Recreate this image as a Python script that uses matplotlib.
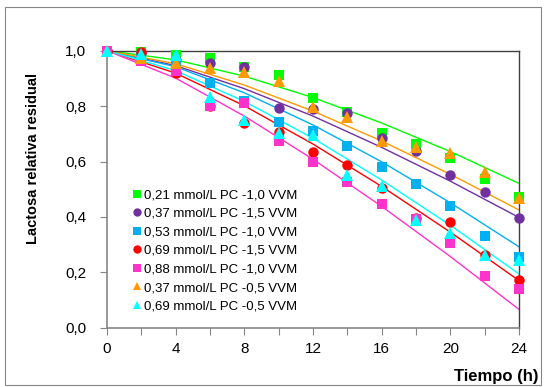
import matplotlib.pyplot as plt
from matplotlib.patches import Rectangle

plt.rcParams['font.family'] = ['Liberation Sans', 'DejaVu Sans']

# measured points (h, relative residual lactose)
t = [0, 2, 4, 6, 8, 10, 12, 14, 16, 18, 20, 22, 24]
s021_10 = [1.0, 0.995, 0.984, 0.972, 0.94, 0.912, 0.83, 0.78, 0.704, 0.662, 0.611, 0.536, 0.471]
s037_15 = [1.0, 0.99, 0.965, 0.957, 0.942, 0.794, 0.79, 0.774, 0.684, 0.639, 0.551, 0.491, 0.397]
s053_10 = [1.0, 0.98, 0.95, 0.882, 0.82, 0.744, 0.711, 0.656, 0.581, 0.519, 0.44, 0.331, 0.254]
s069_15 = [1.0, 0.995, 0.918, 0.80, 0.738, 0.708, 0.635, 0.587, 0.503, 0.395, 0.38, 0.262, 0.172]
s088_10 = [1.0, 0.964, 0.928, 0.80, 0.81, 0.675, 0.60, 0.527, 0.445, 0.392, 0.307, 0.187, 0.139]
s037_05 = [1.0, 0.973, 0.954, 0.936, 0.924, 0.892, 0.798, 0.76, 0.674, 0.653, 0.63, 0.563, 0.47]
s069_05 = [1.0, 0.988, 0.985, 0.832, 0.75, 0.704, 0.696, 0.551, 0.512, 0.389, 0.341, 0.262, 0.244]

tf = [0, 4, 8, 12, 16, 20, 24]
f021_10 = [1.0, 0.967, 0.908, 0.831, 0.739, 0.636, 0.521]
f037_15 = [1.0, 0.946, 0.863, 0.764, 0.651, 0.529, 0.398]
f053_10 = [1.0, 0.942, 0.848, 0.732, 0.599, 0.451, 0.292]
f069_15 = [1.0, 0.919, 0.801, 0.663, 0.510, 0.345, 0.170]
f088_10 = [1.0, 0.901, 0.764, 0.608, 0.438, 0.257, 0.066]
f037_05 = [1.0, 0.953, 0.876, 0.782, 0.674, 0.554, 0.425]
f069_05 = [1.0, 0.928, 0.817, 0.684, 0.533, 0.370, 0.194]

labels = ['0,21 mmol/L PC -1,0 VVM', '0,37 mmol/L PC -1,5 VVM',
          '0,53 mmol/L PC -1,0 VVM', '0,69 mmol/L PC -1,5 VVM',
          '0,88 mmol/L PC -1,0 VVM', '0,37 mmol/L PC -0,5 VVM',
          '0,69 mmol/L PC -0,5 VVM']

series = [s021_10, s037_15, s053_10, s069_15, s088_10, s037_05, s069_05]
fits = [f021_10, f037_15, f053_10, f069_15, f088_10, f037_05, f069_05]
colors = ['#00ff00', '#7030a0', '#00b0f0', '#ff0000', '#ff33cc', '#ff9900', '#00ffff']
markers = ['s', 'o', 's', 'o', 's', '^', '^']
sizes = [7, 7.5, 7, 7.5, 7, 8, 8]

fig = plt.figure(figsize=(5.48, 3.87), dpi=100)
fig.patches.append(Rectangle((5 / 548, 2 / 387), 536 / 548, 378 / 387, transform=fig.transFigure,
                             fill=False, edgecolor='#868686', linewidth=0.8))
ax = fig.add_axes([107 / 548, 1 - 327.7 / 387, 412 / 548, 277 / 387])

for fy, c in zip(fits, colors):
    ax.plot(tf, fy, color=c, linewidth=1.0, zorder=2)

for y, c, m, ms, lab in zip(series, colors, markers, sizes, labels):
    ax.plot(t, y, linestyle='none', marker=m, markersize=ms, color=c,
            markeredgewidth=0, label=lab, zorder=3, clip_on=False)

ax.set_xlim(0, 24)
ax.set_ylim(0, 1.0)
ax.set_xticks(range(0, 25, 2))
ax.set_xticklabels([str(v) if v % 4 == 0 else '' for v in range(0, 25, 2)])
ax.set_yticks([0, 0.2, 0.4, 0.6, 0.8, 1.0])
ax.set_yticklabels(['0,0', '0,2', '0,4', '0,6', '0,8', '1,0'])
ax.tick_params(axis='both', direction='out', length=5, width=0.8, color='#868686',
               labelsize=11, pad=5)
ax.tick_params(axis='y', pad=10)

for side in ['left', 'bottom']:
    ax.spines[side].set_color('#868686')
    ax.spines[side].set_linewidth(1.2)
for side in ['top', 'right']:
    ax.spines[side].set_color('#404040')
    ax.spines[side].set_linewidth(1.0)

fig.text(33 / 548, 1 - 158 / 387, 'Lactosa relativa residual', rotation=90,
         ha='center', va='center', fontsize=10.5, fontweight='bold')
fig.text(538 / 548, 1 - 377 / 387, 'Tiempo (h)', ha='right', va='center',
         fontsize=12, fontweight='bold')

ax.legend(loc='upper left', bbox_to_anchor=(133 / 548, 1 - 189 / 387),
          bbox_transform=fig.transFigure, frameon=False, fontsize=9.5,
          handlelength=0.6, handletextpad=0.2, labelspacing=0.48,
          borderpad=0, borderaxespad=0, markerscale=0.8)

fig.savefig('out.png', dpi=100)
